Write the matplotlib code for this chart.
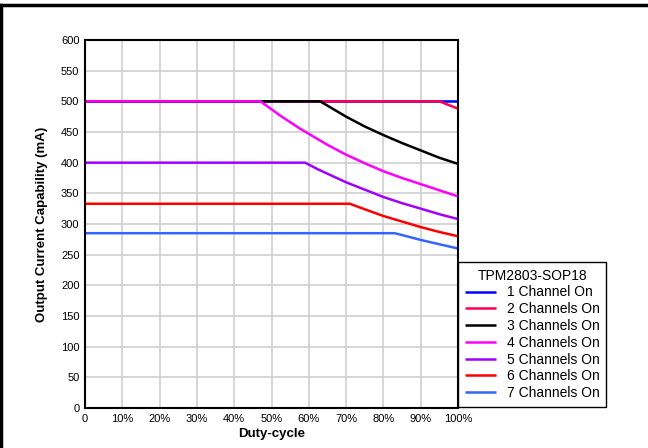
import matplotlib
matplotlib.use("Agg")
import matplotlib.pyplot as plt
from matplotlib.lines import Line2D

plt.rcParams['font.family'] = ['Liberation Sans', 'DejaVu Sans']

# ===== data (duty-cycle %, current mA) =====
ch1_x = [0, 100]
ch1_y = [500, 500]
ch2_x = [0, 95, 100]
ch2_y = [500, 500, 488]
ch3_x = [0, 63, 65, 67.5, 70, 75, 80, 85, 90, 95, 100]
ch3_y = [500, 500, 493, 484, 475, 459, 445, 432, 420, 408, 398]
ch4_x = [0, 47, 50, 52.5, 55, 57.5, 60, 65, 70, 75, 80, 85, 90, 95, 100]
ch4_y = [500, 500, 487, 476, 466, 456, 447, 429, 413, 399, 386, 375, 365, 355, 345]
ch5_x = [0, 59, 62.5, 65, 70, 75, 80, 85, 90, 95, 100]
ch5_y = [400, 400, 389, 382, 368, 356, 344, 334, 325, 316, 308]
ch6_x = [0, 71, 75, 80, 85, 90, 95, 100]
ch6_y = [333, 333, 324, 313, 304, 295, 287, 280]
ch7_x = [0, 83, 85, 90, 95, 100]
ch7_y = [285, 285, 282, 274, 267, 260]

labels = ["1 Channel On", "2 Channels On", "3 Channels On", "4 Channels On",
          "5 Channels On", "6 Channels On", "7 Channels On"]
colors = ["#0000FF", "#FF0050", "#000000", "#FF00FF", "#A000FF", "#FF0000", "#3366FF"]
xticks = [0, 10, 20, 30, 40, 50, 60, 70, 80, 90, 100]
xticklabels = ["0", "10%", "20%", "30%", "40%", "50%", "60%", "70%", "80%", "90%", "100%"]
yticks = list(range(0, 601, 50))

series = [(ch1_x, ch1_y), (ch2_x, ch2_y), (ch3_x, ch3_y), (ch4_x, ch4_y),
          (ch5_x, ch5_y), (ch6_x, ch6_y), (ch7_x, ch7_y)]

fig = plt.figure(figsize=(6.48, 4.48), dpi=100)
ax = fig.add_axes([85/648, 1-408/448, (458-85)/648, (408-40)/448])

for (x, y), lab, c in zip(series, labels, colors):
    ax.plot(x, y, color=c, lw=1.8, label=lab, solid_capstyle="butt")

ax.set_xlim(0, 100)
ax.set_ylim(0, 600)
ax.set_xticks(xticks)
ax.set_xticklabels(xticklabels)
ax.set_yticks(yticks)
ax.tick_params(length=0, labelsize=8, pad=4)
ax.grid(color="#CCCCCC", lw=1.1)
ax.set_axisbelow(True)
for s in ax.spines.values():
    s.set_linewidth(1.5)
    s.set_zorder(5)

ax.set_xlabel("Duty-cycle", fontsize=9.5, fontweight="bold", labelpad=3)
ax.set_ylabel("Output Current Capability (mA)", fontsize=9.5, fontweight="bold", labelpad=9)

leg = fig.legend(loc="lower left", bbox_to_anchor=(458/648, 1-407/448),
                 title="TPM2803-SOP18", fontsize=10, title_fontsize=10,
                 fancybox=False, edgecolor="black", framealpha=1,
                 borderaxespad=0, handlelength=2.2, labelspacing=0.2,
                 handletextpad=0.8, borderpad=0.5)
leg.get_frame().set_linewidth(1.0)

# outer frame (top and left only)
fig.add_artist(Line2D([0, 1], [1-5/448, 1-5/448], color="black", lw=2.5, transform=fig.transFigure))
fig.add_artist(Line2D([1/648, 1/648], [0, 1-5/448], color="black", lw=2.5, transform=fig.transFigure))

plt.savefig("out.png", dpi=100)
